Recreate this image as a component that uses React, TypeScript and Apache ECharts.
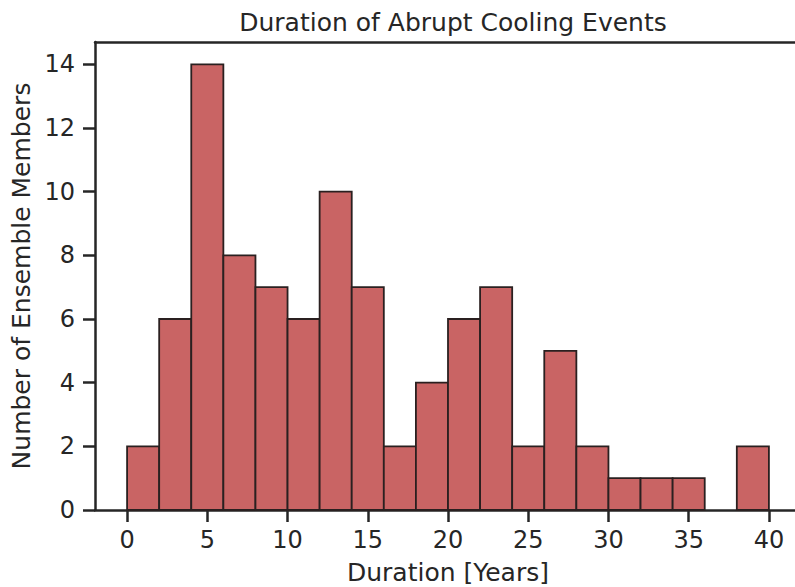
import React, { useEffect, useRef } from "react";
import * as echarts from "echarts";

const binStarts = [0, 2, 4, 6, 8, 10, 12, 14, 16, 18, 20, 22, 24, 26, 28, 30, 32, 34, 36, 38];
const binEnds = [2, 4, 6, 8, 10, 12, 14, 16, 18, 20, 22, 24, 26, 28, 30, 32, 34, 36, 38, 40];
const counts = [2, 6, 14, 8, 7, 6, 10, 7, 2, 4, 6, 7, 2, 5, 2, 1, 1, 1, 0, 2];
const xTicks = [0, 5, 10, 15, 20, 25, 30, 35, 40];
const yTicks = [0, 2, 4, 6, 8, 10, 12, 14];

const FONT = "DejaVu Sans";
const INK = "#262626";

export default function App() {
  const ref = useRef<HTMLDivElement>(null);
  useEffect(() => {
    if (!ref.current) return;
    const chart = echarts.init(ref.current, null, { renderer: "svg" });
    const data = binStarts.map((s, i) => [s, binEnds[i], counts[i]]);
    chart.setOption({
      animation: false,
      backgroundColor: "#ffffff",
      textStyle: { fontFamily: FONT, color: INK },
      title: {
        text: "Duration of Abrupt Cooling Events",
        left: 448,
        textAlign: "center",
        top: 5,
        textStyle: { fontFamily: FONT, fontSize: 25, fontWeight: "normal", color: INK },
      },
      grid: { left: 95, right: 1, top: 42, bottom: 77, outerBoundsMode: "none", containLabel: false },
      xAxis: [
        {
          type: "value",
          min: -2,
          max: 42,
          name: "Duration [Years]",
          nameLocation: "middle",
          nameGap: 50,
          nameTextStyle: { fontFamily: FONT, fontSize: 25, color: INK },
          axisLine: { show: true, onZero: false, lineStyle: { color: INK, width: 2.5 } },
          axisTick: { show: true, length: 12, lineStyle: { color: INK, width: 2.5 }, customValues: xTicks },
          axisLabel: { fontFamily: FONT, fontSize: 24, color: INK, margin: 18, customValues: xTicks },
          splitLine: { show: false },
        },
        {
          type: "value",
          position: "top",
          min: -2,
          max: 42,
          axisLine: { show: true, onZero: false, lineStyle: { color: INK, width: 2.5 } },
          axisTick: { show: false },
          axisLabel: { show: false },
          splitLine: { show: false },
        },
      ],
      yAxis: {
        type: "value",
        min: 0,
        max: 14.7,
        name: "Number of Ensemble Members",
        nameLocation: "middle",
        nameGap: 58,
        nameTextStyle: { fontFamily: FONT, fontSize: 25, color: INK },
        axisLine: { show: true, onZero: false, lineStyle: { color: INK, width: 2.5 } },
        axisTick: { show: true, length: 12, lineStyle: { color: INK, width: 2.5 }, customValues: yTicks },
        axisLabel: { fontFamily: FONT, fontSize: 24, color: INK, margin: 20, customValues: yTicks },
        splitLine: { show: false },
      },
      series: [
        {
          type: "custom",
          xAxisIndex: 0,
          data,
          encode: { x: [0, 1], y: 2 },
          renderItem: (params: any, api: any) => {
            const s = api.value(0);
            const e = api.value(1);
            const h = api.value(2);
            if (!h) return null;
            const p0 = api.coord([s, h]);
            const p1 = api.coord([e, 0]);
            return {
              type: "rect",
              shape: { x: p0[0], y: p0[1], width: p1[0] - p0[0], height: p1[1] - p0[1] },
              style: { fill: "#c96464", stroke: "#2a2020", lineWidth: 1.8 },
            };
          },
        },
      ],
    });
    return () => chart.dispose();
  }, []);
  return (
    <div style={{ position: "absolute", left: 0, top: 0, width: 795, height: 587, overflow: "hidden" }}>
      <div ref={ref} style={{ width: 802, height: 587 }} />
    </div>
  );
}
